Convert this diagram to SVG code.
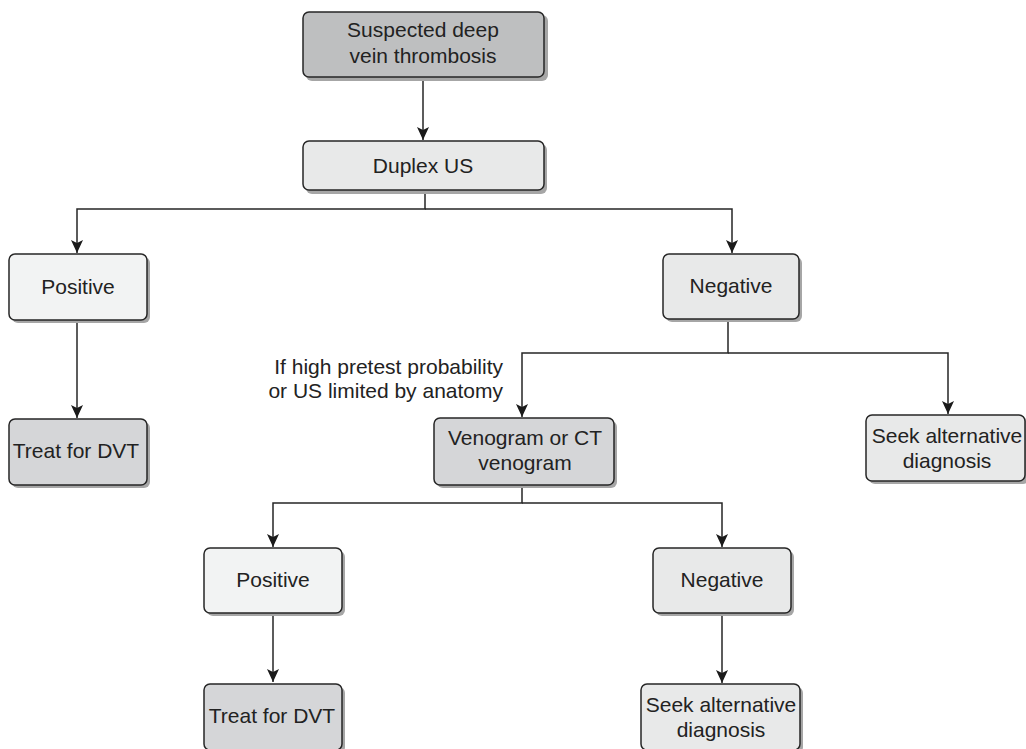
<svg xmlns="http://www.w3.org/2000/svg" width="1026" height="749" viewBox="0 0 1026 749">
<defs>
<style>
.box{stroke:#262626;stroke-width:1.5}
.sh{fill:#a6a6a6;stroke:none}
.t{font-family:"Liberation Sans",Arial,Helvetica,sans-serif;font-size:21px;fill:#222;text-anchor:middle}
.lbl{font-family:"Liberation Sans",Arial,Helvetica,sans-serif;font-size:21px;fill:#222;text-anchor:end}
.c{fill:none;stroke:#262626;stroke-width:1.5}
.dark{fill:#bebfc0}
.mid{fill:#d5d6d8}
.light{fill:#e8e9e9}
.pale{fill:#f2f3f3}
</style>
<marker id="ah" markerUnits="userSpaceOnUse" markerWidth="14" markerHeight="12" refX="13" refY="6" orient="auto">
<path d="M0,0 L13,6 L0,12 L3,6 z" fill="#1a1a1a"/>
</marker>
</defs>
<rect width="1026" height="749" fill="#ffffff"/>

<g id="connectors">
<path class="c" d="M423,77 V140" marker-end="url(#ah)"/>
<path class="c" d="M425,190 V209 H77 V253" marker-end="url(#ah)"/>
<path class="c" d="M425,209 H732 V253" marker-end="url(#ah)"/>
<path class="c" d="M77,320 V418" marker-end="url(#ah)"/>
<path class="c" d="M728,319 V353 H522 V417" marker-end="url(#ah)"/>
<path class="c" d="M728,353 H948 V414" marker-end="url(#ah)"/>
<path class="c" d="M522,485 V503 H273 V547" marker-end="url(#ah)"/>
<path class="c" d="M522,503 H722 V547" marker-end="url(#ah)"/>
<path class="c" d="M273,613 V682" marker-end="url(#ah)"/>
<path class="c" d="M722,613 V683" marker-end="url(#ah)"/>
</g>

<g id="label">
<text class="lbl" x="503" y="374">If high pretest probability</text>
<text class="lbl" x="503" y="398">or US limited by anatomy</text>
</g>

<g id="node-suspected">
<rect class="sh" x="306" y="15" width="242" height="66" rx="6"/>
<rect class="box dark" x="303" y="12" width="241" height="65" rx="6"/>
<text class="t" x="423" y="37">Suspected deep</text>
<text class="t" x="423" y="63">vein thrombosis</text>
</g>

<g id="node-duplex">
<rect class="sh" x="306" y="144" width="241" height="50" rx="6"/>
<rect class="box light" x="303" y="141" width="241" height="49" rx="6"/>
<text class="t" x="423" y="173">Duplex US</text>
</g>

<g id="node-positive1">
<rect class="sh" x="12" y="257" width="138" height="66" rx="6"/>
<rect class="box pale" x="9" y="254" width="138" height="66" rx="6"/>
<text class="t" x="78" y="294">Positive</text>
</g>

<g id="node-treat1">
<rect class="sh" x="12" y="422" width="138" height="66" rx="6"/>
<rect class="box mid" x="9" y="419" width="138" height="66" rx="6"/>
<text class="t" x="76" y="458">Treat for DVT</text>
</g>

<g id="node-negative1">
<rect class="sh" x="666" y="257" width="136" height="65" rx="6"/>
<rect class="box light" x="663" y="254" width="136" height="65" rx="6"/>
<text class="t" x="731" y="293">Negative</text>
</g>

<g id="node-venogram">
<rect class="sh" x="437" y="421" width="180" height="67" rx="6"/>
<rect class="box mid" x="434" y="418" width="180" height="67" rx="6"/>
<text class="t" x="525" y="445">Venogram or CT</text>
<text class="t" x="525" y="470">venogram</text>
</g>

<g id="node-seek1">
<rect class="sh" x="869" y="418" width="160" height="66" rx="6"/>
<rect class="box light" x="866" y="415" width="159" height="66" rx="6"/>
<text class="t" x="947" y="443">Seek alternative</text>
<text class="t" x="947" y="468">diagnosis</text>
</g>

<g id="node-positive2">
<rect class="sh" x="207" y="551" width="138" height="65" rx="6"/>
<rect class="box pale" x="204" y="548" width="138" height="65" rx="6"/>
<text class="t" x="273" y="587">Positive</text>
</g>

<g id="node-negative2">
<rect class="sh" x="656" y="551" width="138" height="65" rx="6"/>
<rect class="box light" x="653" y="548" width="138" height="65" rx="6"/>
<text class="t" x="722" y="587">Negative</text>
</g>

<g id="node-treat2">
<rect class="sh" x="207" y="687" width="138" height="66" rx="6"/>
<rect class="box mid" x="204" y="684" width="138" height="66" rx="6"/>
<text class="t" x="272" y="723">Treat for DVT</text>
</g>

<g id="node-seek2">
<rect class="sh" x="644" y="687" width="159" height="66" rx="6"/>
<rect class="box light" x="641" y="684" width="159" height="66" rx="6"/>
<text class="t" x="721" y="712">Seek alternative</text>
<text class="t" x="721" y="737">diagnosis</text>
</g>
</svg>
